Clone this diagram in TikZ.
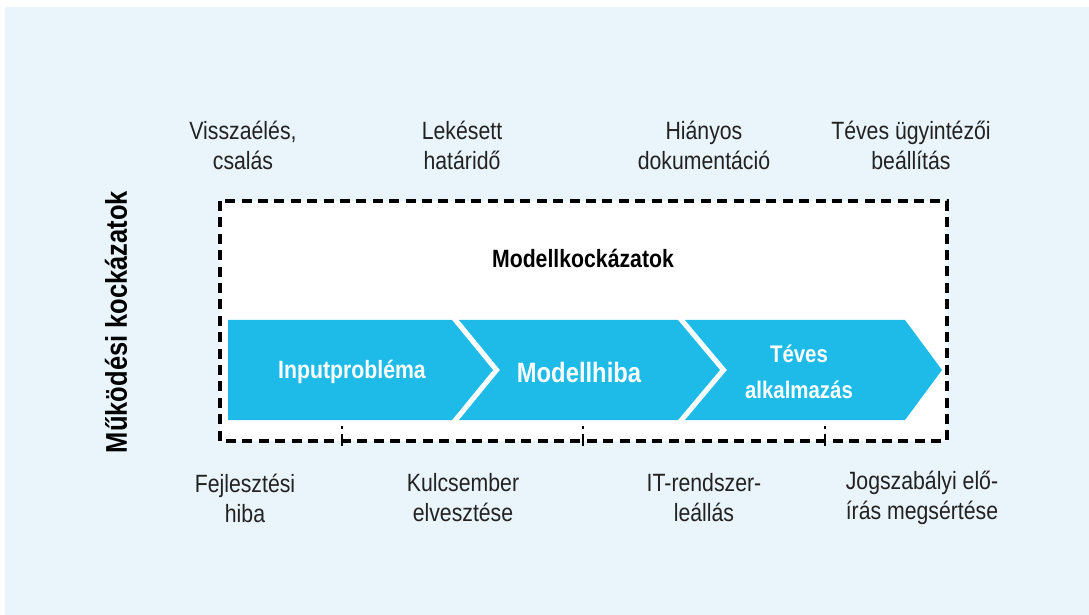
\documentclass[tikz,border=0pt]{standalone}
\usepackage{fontspec}
\setmainfont{Liberation Sans}[FakeStretch=0.85]
\usetikzlibrary{positioning}
\definecolor{bgblue}{HTML}{E9F4FB}
\definecolor{stageblue}{HTML}{1EBBE8}
\definecolor{txtgray}{HTML}{222222}
\tikzset{
	risk/.style={align=center, text=txtgray, font=\fontsize{12.5}{15}\selectfont},
	stage/.style={align=center, text=white, font=\bfseries\fontsize{12.5}{18}\selectfont},
	frame/.style={dash pattern=on 5pt off 3.2pt, line width=1.6pt},
}

\begin{document}
\begin{tikzpicture}[x=0.5pt, y=-0.5pt]
	\useasboundingbox (0,0) rectangle (1089,615);
	\fill[bgblue] (5,7) rectangle (1089,615);
	\draw[frame, fill=white] (220,201) rectangle (947,441);
	% stages
	\fill[stageblue] (228,320) -- (452,320) -- (493,370) -- (452,420) -- (228,420) -- cycle;
	\fill[stageblue] (459,320) -- (678,320) -- (720,370) -- (678,420) -- (459,420) -- (500,370) -- cycle;
	\fill[stageblue] (685,320) -- (905,320) -- (942,370) -- (905,420) -- (685,420) -- (727,370) -- cycle;
	\foreach \x in {342,583,825} {
		\draw[line width=1pt] (\x,426) -- (\x,429);
		\draw[line width=1pt] (\x,434) -- (\x,446);
	}
	\node (input) [stage] at (352,372) {Inputprobléma};
	\node (modelbug) [stage, font=\bfseries\fontsize{14}{17}\selectfont] at (579,372) {Modellhiba};
	\node (misuse) [stage, font=\bfseries\fontsize{12}{18}\selectfont] at (799,372) {Téves\\alkalmazás};
	\node (modelrisk) [font=\bfseries\fontsize{12.5}{15}\selectfont] at (583,258) {Modellkockázatok};
	\node (oprisk) [rotate=90, font=\bfseries\fontsize{15}{18}\selectfont] at (116,322) {Működési kockázatok};
	% operational risks
	\node (abuse) [risk] at (243,145) {Visszaélés,\\csalás};
	\node (deadline) [risk] at (462,145) {Lekésett\\határidő};
	\node (docs) [risk] at (704,145) {Hiányos\\dokumentáció};
	\node (setting) [risk] at (911,145) {Téves ügyintézői\\beállítás};
	\node (devbug) [risk] at (245,498) {Fejlesztési\\hiba};
	\node (keyman) [risk] at (463,498) {Kulcsember\\elvesztése};
	\node (itdown) [risk] at (704,498) {IT-rendszer-\\leállás};
	\node (legal) [risk] at (922,498) {Jogszabályi elő-\\írás megsértése};
\end{tikzpicture}
\end{document}
